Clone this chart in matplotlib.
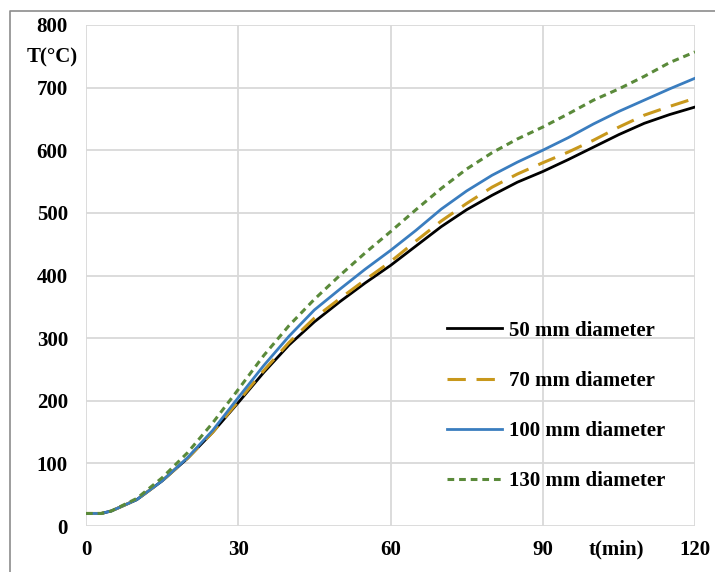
import matplotlib
matplotlib.use("Agg")
import matplotlib.pyplot as plt
from matplotlib.lines import Line2D

# time (min)
t = [0, 3, 5, 10, 15, 20, 25, 30, 35, 40, 45, 50, 55, 60, 65, 70, 75,
     80, 85, 90, 95, 100, 105, 110, 115, 120]

# temperature (°C) for each bar diameter
d50 = [20, 20, 24, 42, 72, 108, 150, 197, 245, 289, 326, 358, 388, 416,
       447, 478, 505, 528, 549, 566, 585, 605, 625, 643, 657, 669]
d70 = [20, 20, 24, 42, 72, 108, 150, 199, 248, 293, 332, 363, 393, 422,
       455, 487, 515, 541, 562, 580, 597, 616, 637, 656, 670, 683]
d100 = [20, 20, 24, 42, 72, 109, 153, 205, 256, 303, 345, 378, 410, 440,
        472, 506, 535, 560, 581, 600, 620, 642, 662, 680, 698, 715]
d130 = [20, 20, 24, 44, 77, 117, 165, 218, 272, 320, 362, 400, 436, 470,
        505, 539, 570, 596, 618, 637, 658, 680, 698, 718, 740, 757]

labels = ["50 mm diameter", "70 mm diameter", "100 mm diameter", "130 mm diameter"]
xticks = [0, 30, 60, 90, 120]
yticks = [0, 100, 200, 300, 400, 500, 600, 700, 800]

SERIF = ["Liberation Serif", "DejaVu Serif"]

fig = plt.figure(figsize=(7.15, 5.72), dpi=100)
W, H = 715, 572
ax = fig.add_axes([86 / W, 1 - 526 / H, (695 - 86) / W, (526 - 25) / H])

# outer chart-area frame (only left and top visible)
fig.add_artist(Line2D([10 / W, 10 / W, 1.0], [0.0, 1 - 11 / H, 1 - 11 / H],
                      transform=fig.transFigure, color="#8c8c8c", lw=1.2))

ax.plot(t, d50, color="black", lw=2.0, label=labels[0])
ax.plot(t, d70, color="#c8981c", lw=2.2, dashes=(6, 3.5), label=labels[1])
ax.plot(t, d100, color="#3a7dbf", lw=2.0, label=labels[2])
ax.plot(t, d130, color="#5a8a3a", lw=2.2, dashes=(2.2, 1.6), label=labels[3])

ax.set_xlim(0, 120)
ax.set_ylim(0, 800)
ax.set_xticks(xticks)
ax.set_yticks(yticks)
ax.grid(True, color="#d9d9d9", lw=1.3)
ax.set_axisbelow(True)
for s in ax.spines.values():
    s.set_visible(False)
ax.tick_params(length=0)
ax.tick_params(axis="y", pad=13)
ax.tick_params(axis="x", pad=10)
for lab in ax.get_xticklabels() + ax.get_yticklabels():
    lab.set_fontfamily(SERIF)
    lab.set_fontweight("bold")
    lab.set_fontsize(15)

fig.text(52 / W, 1 - 57 / H, "T(°C)", family=SERIF, weight="bold",
         fontsize=15, ha="center", va="center")
fig.text(616 / W, 1 - 549 / H, "t(min)", family=SERIF, weight="bold",
         fontsize=15, ha="center", va="center")

leg = ax.legend(loc="upper left", bbox_to_anchor=(0.593, 0.41),
                frameon=False, borderaxespad=0, borderpad=0,
                handlelength=2.65, handletextpad=0.3, labelspacing=1.45,
                prop={"family": SERIF, "weight": "bold", "size": 15})

fig.savefig("out.png", dpi=100)
